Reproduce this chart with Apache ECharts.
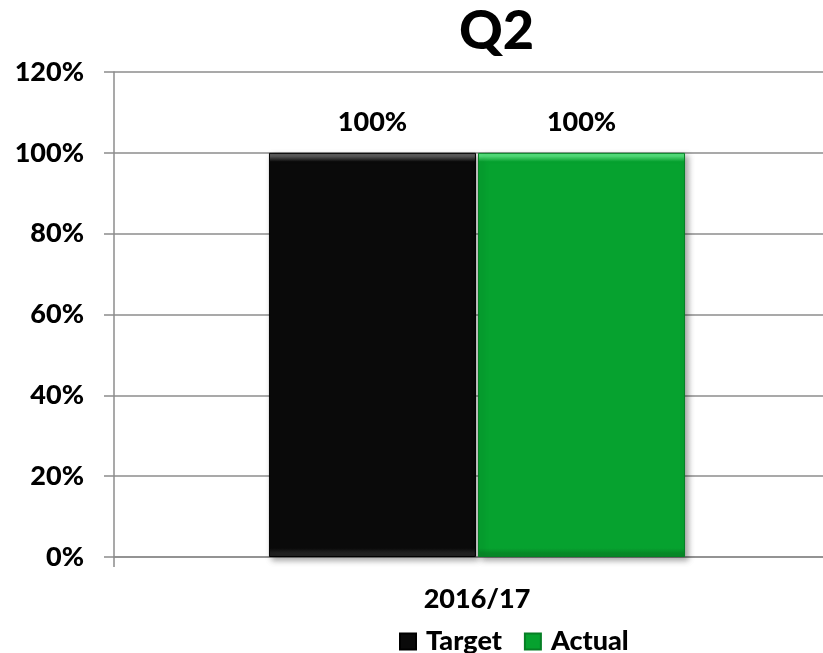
<!DOCTYPE html>
<html>
<head>
<meta charset="utf-8">
<script src="https://cdn.jsdelivr.net/npm/echarts@6/dist/echarts.min.js"></script>
<style>
  html, body { margin: 0; padding: 0; background: #ffffff; }
  #chart { width: 823px; height: 653px; }
</style>
</head>
<body>
<div id="chart"></div>
<script>
// Quarter results: target vs actual
const categories = ['2016/17'];
const seriesNames = ['Target', 'Actual'];
const targetValues = [1.00];
const actualValues = [1.00];
const yTickValues = [0, 0.2, 0.4, 0.6, 0.8, 1.0, 1.2];

const FONT = 'Lato, "Open Sans", "Liberation Sans", sans-serif';
const WEIGHT = 900;
const pct = v => Math.round(v * 100) + '%';

// Bevelled fill: bright top rim fading into the body, darker bottom rim
function bevel(top, body, bottom) {
  return {
    type: 'linear', x: 0, y: 0, x2: 0, y2: 1,
    colorStops: [
      { offset: 0, color: top },
      { offset: 0.008, color: top },
      { offset: 0.022, color: body },
      { offset: 0.978, color: body },
      { offset: 0.99, color: bottom },
      { offset: 1, color: bottom }
    ]
  };
}

const chart = echarts.init(document.getElementById('chart'), null, { renderer: 'canvas' });

const labelStyle = {
  show: true,
  position: 'top',
  distance: 17,
  formatter: p => pct(p.value),
  fontFamily: FONT,
  fontWeight: WEIGHT,
  fontSize: 27,
  color: '#000'
};

chart.setOption({
  animation: false,
  backgroundColor: '#ffffff',
  title: {
    text: 'Q2',
    left: 454,
    top: 0,
    textStyle: { fontFamily: FONT, fontWeight: WEIGHT, fontSize: 54, color: '#000' }
  },
  legend: {
    data: seriesNames,
    left: 394,
    top: 623,
    itemWidth: 16,
    itemHeight: 16,
    itemGap: 22,
    icon: 'rect',
    textStyle: { fontFamily: FONT, fontWeight: WEIGHT, fontSize: 27, color: '#000', padding: [0, 0, 0, 5] }
  },
  // the plot runs past the right edge of the canvas, so the grid is not clamped to it
  grid: { left: 114, top: 72, width: 726, height: 485, containLabel: false, outerBoundsMode: 'none' },
  xAxis: {
    type: 'category',
    data: categories,
    axisLine: { show: true, lineStyle: { color: '#8c8c8c', width: 1.5 } },
    axisTick: { show: true, length: 10, lineStyle: { color: '#8c8c8c', width: 1.5 } },
    axisLabel: {
      margin: 29,
      fontFamily: FONT, fontWeight: WEIGHT, fontSize: 27, color: '#000'
    }
  },
  yAxis: {
    type: 'value',
    min: yTickValues[0],
    max: yTickValues[yTickValues.length - 1],
    interval: yTickValues[1] - yTickValues[0],
    axisLine: { show: true, lineStyle: { color: '#8c8c8c', width: 1.5 } },
    axisTick: { show: true, length: 10, lineStyle: { color: '#8c8c8c', width: 1.5 } },
    splitLine: { show: true, lineStyle: { color: '#8c8c8c', width: 1.5 } },
    axisLabel: {
      margin: 30,
      formatter: pct,
      fontFamily: FONT, fontWeight: WEIGHT, fontSize: 27, color: '#000'
    }
  },
  series: [
    {
      name: seriesNames[0],
      type: 'bar',
      data: targetValues,
      barWidth: 207,
      barGap: '1%',
      itemStyle: {
        color: bevel('#5a5a5a', '#0a0a0a', '#202020'),
        borderColor: '#000',
        borderWidth: 1,
        shadowColor: 'rgba(0,0,0,0.35)',
        shadowBlur: 6,
        shadowOffsetX: 3,
        shadowOffsetY: 3
      },
      label: labelStyle
    },
    {
      name: seriesNames[1],
      type: 'bar',
      data: actualValues,
      barWidth: 207,
      itemStyle: {
        color: bevel('#52e07a', '#06a22f', '#078a28'),
        borderColor: '#067f25',
        borderWidth: 1,
        shadowColor: 'rgba(0,0,0,0.35)',
        shadowBlur: 6,
        shadowOffsetX: 3,
        shadowOffsetY: 3
      },
      label: labelStyle
    }
  ]
});
</script>
</body>
</html>
